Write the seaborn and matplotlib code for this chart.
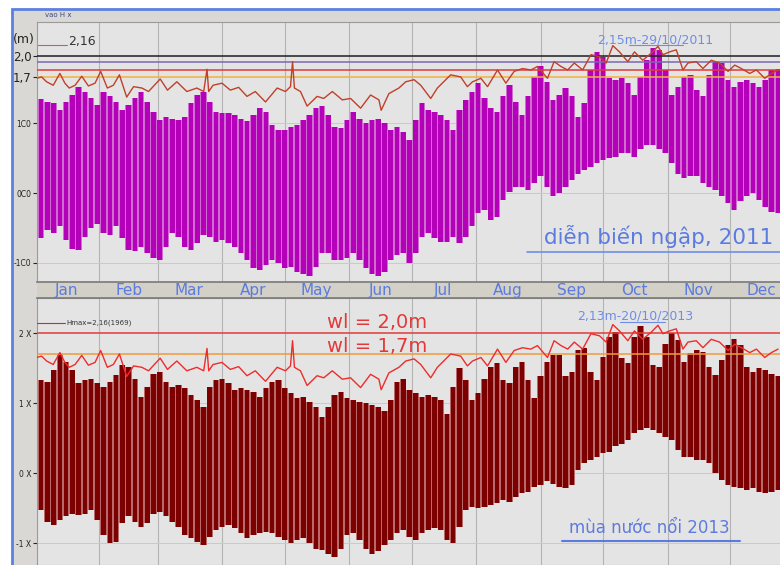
import numpy as np
import matplotlib
matplotlib.use('Agg')
import matplotlib.pyplot as plt
from matplotlib.patches import Rectangle
import seaborn as sns

sns.set_style('white')
plt.rcParams['font.family'] = ['DejaVu Sans']

# tide envelope, sampled every 3 days from 1 Jan (day of year)
tide_days = np.arange(0, 360, 3)

high_2011 = [1.36, 1.35, 1.31, 1.29, 1.20, 1.31, 1.41, 1.53, 1.46, 1.36, 1.27, 1.46, 1.40, 1.31, 1.19, 1.27, 1.36, 1.46, 1.31, 1.17,
             1.05, 1.10, 1.07, 1.05, 1.10, 1.29, 1.41, 1.46, 1.31, 1.17, 1.15, 1.15, 1.12, 1.07, 1.03, 1.12, 1.22, 1.17, 0.98, 0.91,
             0.91, 0.95, 0.98, 1.05, 1.12, 1.22, 1.25, 1.12, 0.95, 0.93, 1.05, 1.17, 1.07, 1.00, 1.05, 1.07, 1.00, 0.91, 0.95, 0.88,
             0.76, 1.05, 1.29, 1.19, 1.17, 1.12, 1.05, 0.91, 1.19, 1.34, 1.46, 1.58, 1.36, 1.22, 1.17, 1.39, 1.55, 1.31, 1.12, 1.39,
             1.67, 1.82, 1.60, 1.34, 1.41, 1.51, 1.39, 1.10, 1.29, 1.77, 2.03, 1.96, 1.65, 1.63, 1.65, 1.58, 1.41, 1.67, 1.91, 2.08,
             2.06, 1.77, 1.41, 1.53, 1.67, 1.70, 1.48, 1.39, 1.70, 1.89, 1.87, 1.63, 1.53, 1.60, 1.63, 1.58, 1.53, 1.63, 1.77, 1.79]
low_2011 = [-0.63, -0.65, -0.53, -0.58, -0.48, -0.68, -0.80, -0.82, -0.63, -0.51, -0.44, -0.58, -0.60, -0.48, -0.65, -0.82, -0.84, -0.77, -0.87, -0.94,
            -0.96, -0.77, -0.58, -0.63, -0.77, -0.82, -0.72, -0.60, -0.63, -0.70, -0.68, -0.72, -0.77, -0.87, -0.96, -1.08, -1.11, -1.04, -0.96, -1.01,
            -1.08, -1.06, -1.13, -1.16, -1.20, -1.06, -0.87, -0.87, -0.96, -0.96, -0.94, -0.87, -0.96, -1.08, -1.16, -1.20, -1.13, -0.96, -0.89, -0.87,
            -1.01, -0.87, -0.63, -0.58, -0.65, -0.70, -0.70, -0.63, -0.72, -0.63, -0.48, -0.29, -0.24, -0.39, -0.34, -0.10, 0.02, 0.09, 0.09, 0.04,
            0.14, 0.24, 0.09, -0.05, 0.00, 0.09, 0.19, 0.28, 0.33, 0.38, 0.43, 0.47, 0.50, 0.52, 0.57, 0.57, 0.52, 0.64, 0.69, 0.69,
            0.64, 0.57, 0.43, 0.28, 0.21, 0.24, 0.24, 0.14, 0.09, 0.04, -0.05, -0.15, -0.24, -0.12, -0.05, 0.00, -0.10, -0.20, -0.27, -0.29]

high_2013 = [1.38, 1.33, 1.30, 1.47, 1.69, 1.59, 1.47, 1.28, 1.33, 1.35, 1.28, 1.23, 1.30, 1.40, 1.54, 1.52, 1.35, 1.09, 1.23, 1.42,
             1.45, 1.30, 1.23, 1.26, 1.21, 1.11, 1.04, 0.95, 1.23, 1.33, 1.35, 1.28, 1.19, 1.21, 1.19, 1.16, 1.09, 1.21, 1.30, 1.33,
             1.21, 1.14, 1.07, 1.09, 1.02, 0.95, 0.80, 0.95, 1.11, 1.16, 1.07, 1.04, 1.02, 1.00, 0.97, 0.95, 0.88, 1.04, 1.30, 1.35,
             1.19, 1.14, 1.09, 1.11, 1.09, 1.04, 0.85, 1.23, 1.50, 1.33, 1.04, 1.14, 1.35, 1.52, 1.57, 1.33, 1.28, 1.52, 1.59, 1.33,
             1.07, 1.38, 1.59, 1.69, 1.69, 1.38, 1.45, 1.76, 1.78, 1.45, 1.33, 1.66, 1.95, 2.02, 1.64, 1.57, 1.95, 2.10, 1.95, 1.54,
             1.52, 1.85, 2.00, 1.90, 1.59, 1.71, 1.76, 1.73, 1.52, 1.40, 1.61, 1.83, 1.92, 1.83, 1.52, 1.45, 1.50, 1.47, 1.42, 1.38]
low_2013 = [-0.43, -0.53, -0.70, -0.74, -0.67, -0.62, -0.58, -0.60, -0.58, -0.53, -0.67, -0.89, -1.00, -0.98, -0.72, -0.62, -0.70, -0.77, -0.72, -0.58,
            -0.55, -0.62, -0.70, -0.77, -0.89, -0.93, -0.98, -1.03, -0.91, -0.81, -0.77, -0.74, -0.79, -0.86, -0.93, -0.89, -0.86, -0.84, -0.86, -0.91,
            -0.96, -1.00, -0.96, -0.93, -1.00, -1.08, -1.10, -1.15, -1.20, -1.08, -0.89, -0.86, -0.96, -1.08, -1.15, -1.12, -1.03, -0.96, -0.86, -0.81,
            -0.91, -0.96, -0.86, -0.81, -0.79, -0.81, -0.96, -1.00, -0.77, -0.53, -0.48, -0.50, -0.48, -0.46, -0.43, -0.39, -0.41, -0.34, -0.29, -0.27,
            -0.20, -0.17, -0.12, -0.15, -0.20, -0.22, -0.17, 0.04, 0.14, 0.19, 0.23, 0.28, 0.30, 0.38, 0.42, 0.47, 0.57, 0.61, 0.64, 0.61,
            0.57, 0.52, 0.47, 0.33, 0.23, 0.23, 0.19, 0.19, 0.14, 0.00, -0.10, -0.17, -0.20, -0.22, -0.24, -0.22, -0.27, -0.29, -0.27, -0.24]

# daily max water level line (same curve in both panels)
hmax_days = [0.8, 3.2, 5.6, 8.8, 12.0, 14.4, 16.5, 19.3, 22.5, 25.7, 28.9, 31.6, 34.8, 37.7, 40.6, 44.1, 47.4, 51.4, 54.6, 60.2,
             63.7, 68.2, 73.0, 77.8, 81.1, 82.7, 83.5, 85.6, 89.9, 93.9, 97.9, 101.9, 105.9, 110.8, 116.4, 120.4, 122.8, 123.8, 124.7, 127.6,
             130.8, 135.6, 138.8, 142.9, 147.7, 151.7, 156.5, 161.3, 165.3, 166.4, 170.1, 174.9, 178.2, 182.2, 185.4, 190.2, 193.4, 199.8, 204.6, 207.8,
             210.3, 214.3, 217.5, 222.3, 226.3, 230.3, 234.3, 238.3, 241.5, 246.3, 249.5, 252.8, 256.0, 259.2, 263.2, 267.2, 271.3, 274.5, 277.7, 280.9,
             284.9, 288.1, 292.1, 296.1, 299.4, 301.8, 305.0, 308.2, 311.4, 313.8, 317.8, 321.0, 325.0, 329.0, 333.1, 336.3, 339.5, 343.5, 346.7, 350.7,
             353.9, 357.1]
hmax_vals = [1.65, 1.67, 1.60, 1.55, 1.72, 1.58, 1.51, 1.55, 1.68, 1.54, 1.58, 1.75, 1.51, 1.55, 1.70, 1.38, 1.53, 1.51, 1.46, 1.64,
             1.48, 1.60, 1.46, 1.51, 1.46, 1.78, 1.46, 1.55, 1.58, 1.48, 1.52, 1.39, 1.46, 1.31, 1.51, 1.46, 1.53, 1.89, 1.51, 1.46,
             1.25, 1.39, 1.36, 1.46, 1.34, 1.36, 1.22, 1.41, 1.34, 1.19, 1.43, 1.51, 1.60, 1.63, 1.55, 1.36, 1.51, 1.70, 1.67, 1.53,
             1.60, 1.65, 1.53, 1.77, 1.58, 1.75, 1.79, 1.77, 1.82, 1.65, 1.89, 1.82, 1.77, 1.87, 1.77, 1.99, 1.96, 1.87, 2.12, 2.03,
             1.89, 2.03, 1.91, 2.01, 2.11, 1.99, 2.03, 2.06, 1.77, 1.87, 1.89, 1.79, 1.91, 1.87, 1.75, 1.84, 1.79, 1.72, 1.77, 1.65,
             1.72, 1.77]

levels_2011 = [1.97, 1.88, 1.77, 1.67]
levels_2013 = [2.0, 1.7]

months = ['Jan', 'Feb', 'Mar', 'Apr', 'May', 'Jun', 'Jul', 'Aug', 'Sep', 'Oct', 'Nov', 'Dec']
month_start = [0, 31, 59, 90, 120, 151, 181, 212, 243, 273, 304, 334]
month_mid = [15, 45, 74, 105, 135, 166, 196, 227, 258, 288, 319, 349]

BLUE = '#5b7be0'
W, H = 780, 565
fig = plt.figure(figsize=(W / 100, H / 100), dpi=100)


def px_box(l, t, r, b):
    return [l / W, 1 - b / H, (r - l) / W, (b - t) / H]


bg = fig.add_axes([0, 0, 1, 1])
bg.set_xlim(0, W)
bg.set_ylim(H, 0)
bg.axis('off')
bg.add_patch(Rectangle((12, 9), W, H, facecolor='#d9d8d4', edgecolor='#5b7fe3', lw=2))


def panel(ax, low, high, fill, light, line_color, levels, level_colors, ylim, ticks, labels, sizes):
    ax.set_facecolor('#e4e4e4')
    for d in month_start[1:]:
        ax.axvline(d, color='#b4b4b4', lw=0.8, zorder=0)
    for v in (1, 0, -1):
        ax.axhline(v, color='#cacaca', lw=0.7, zorder=0)
    low = np.array(low)
    high = np.array(high)
    # lighter strokes underneath, darker body on top -> striped look of the hourly record
    ax.bar(tide_days, high - low, bottom=low, width=3, color=light, lw=0, zorder=2)
    ax.bar(tide_days, high - low, bottom=low, width=2.2, color=fill, lw=0, zorder=2.1)
    for lv, c in zip(levels, level_colors):
        ax.axhline(lv, color=c, lw=1.1, zorder=3)
    sns.lineplot(x=hmax_days, y=hmax_vals, ax=ax, color=line_color, lw=1.0,
                 sort=False, estimator=None, zorder=4)
    ax.set_xlim(1, 359)
    ax.set_ylim(*ylim)
    ax.set_xticks([])
    ax.set_xlabel('')
    ax.set_ylabel('')
    ax.set_yticks(ticks)
    ax.set_yticklabels(labels)
    for lab, s in zip(ax.get_yticklabels(), sizes):
        lab.set_fontsize(s)
    ax.tick_params(axis='y', left=True, direction='out', length=3, width=0.8, pad=1, colors='#222222')
    for sp in ax.spines.values():
        sp.set_color('#9a9a9a')
        sp.set_linewidth(0.8)


ax1 = fig.add_axes(px_box(37, 22, 782, 282))
panel(ax1, low_2011, high_2011, '#b400b8', '#cf6ccf', '#c0402a',
      levels_2011, ['#1e1e1e', '#7b68b0', '#e23a3a', '#f2b13a'],
      (-1.28, 2.46), [1.97, 1.67, 1.0, 0.0, -1.0],
      ['2,0', '1,7', '1C0', '0C0', '-1C0'], [8.5, 8.5, 5.5, 5.5, 5.5])

ax2 = fig.add_axes(px_box(37, 298, 782, 565))
panel(ax2, low_2013, high_2013, '#7d0000', '#b86a6a', '#ee2c2c',
      levels_2013, ['#e23a3a', '#f09a3a'],
      (-1.314, 2.5), [2.0, 1.0, 0.0, -1.0],
      ['2 X', '1 X', '0 X', '-1 X'], [5.5, 5.5, 5.5, 5.5])

band = fig.add_axes(px_box(37, 282, 782, 298))
band.set_facecolor('#d3d0c7')
band.set_xlim(1, 359)
band.set_ylim(0, 1)
band.set_xticks([])
band.set_yticks([])
for m, d in zip(months, month_mid):
    band.text(d, 0.45, m, ha='center', va='center', fontsize=11, color=BLUE)
for side in ('left', 'right'):
    band.spines[side].set_visible(False)
for side in ('top', 'bottom'):
    band.spines[side].set_color('#7a7a7a')
    band.spines[side].set_linewidth(1.2)

# annotations (figure pixel coordinates)
ov = fig.add_axes([0, 0, 1, 1], zorder=10)
ov.set_xlim(0, W)
ov.set_ylim(H, 0)
ov.axis('off')
ov.patch.set_alpha(0)

ov.text(45, 15, 'vao H x', fontsize=5, color='#3a4a8a', va='center')
ov.text(13, 40, '(m)', fontsize=9, color='#222222', va='center')
ov.plot([38, 67], [45, 45], color='#c06060', lw=0.8)
ov.text(68, 41, '2,16', fontsize=9, color='#333333', va='center')

ov.text(655, 40, '2,15m-29/10/2011', fontsize=9, color='#6f8de6', ha='center', va='center')
ov.plot([629, 683], [45, 45], color='#6f8de6', lw=0.8)
ov.text(659, 237, 'diễn biến ngập, 2011', fontsize=15.5, color=BLUE, ha='center', va='center')
ov.plot([527, 780], [252, 252], color='#6f8de6', lw=1.2)

ov.plot([37, 65], [323, 323], color='#c03030', lw=0.8)
ov.text(66, 323, 'Hmax=2,16(1969)', fontsize=5, color='#333333', va='center')
ov.text(327, 323, 'wl = 2,0m', fontsize=14, color='#e23a3a', va='center')
ov.text(327, 346, 'wl = 1,7m', fontsize=14, color='#e23a3a', va='center')
ov.text(635, 316, '2,13m-20/10/2013', fontsize=9, color='#6f8de6', ha='center', va='center')
ov.plot([620, 665], [322, 322], color='#6f8de6', lw=0.8)
ov.text(649, 528, 'mùa nước nổi 2013', fontsize=12, color=BLUE, ha='center', va='center')
ov.plot([562, 740], [541, 541], color=BLUE, lw=1.5)

fig.savefig('out.png', dpi=100)
